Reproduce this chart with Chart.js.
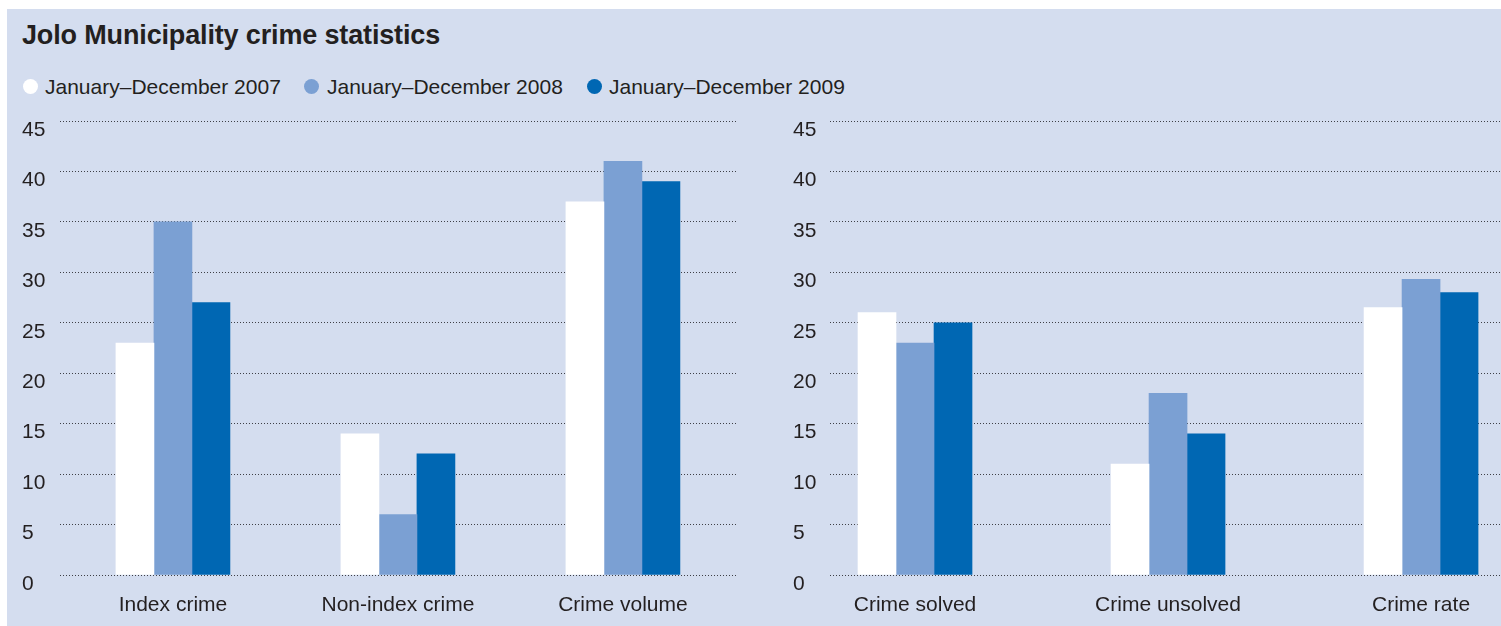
<!DOCTYPE html>
<html>
<head>
<meta charset="utf-8">
<script src="https://cdn.jsdelivr.net/npm/chart.js@4/dist/chart.umd.min.js"></script>
<style>
  html, body { margin: 0; padding: 0; background: #ffffff; }
  body { width: 1501px; height: 626px; position: relative; overflow: hidden; font-family: "Liberation Sans", Arial, sans-serif; color: #231f20; }
  #panel { position: absolute; left: 7px; top: 9px; width: 1494px; height: 617px; background: #d4ddef; }
  #title { position: absolute; left: 22px; top: 22px; font-size: 27px; font-weight: bold; line-height: 1; white-space: nowrap; letter-spacing: -0.15px; }
  .leg-dot { position: absolute; width: 15px; height: 15px; border-radius: 50%; top: 78.5px; }
  .leg-txt { position: absolute; top: 75.7px; font-size: 21px; line-height: 1; white-space: nowrap; }
  canvas { position: absolute; }
  #wrapL { position: absolute; left: 7px; top: 111px; width: 730px; height: 515px; }
  #wrapR { position: absolute; left: 760px; top: 111px; width: 741px; height: 515px; }
</style>
</head>
<body>
<div id="panel"></div>
<div id="title">Jolo Municipality crime statistics</div>
<div id="legend"></div>
<div id="wrapL"><canvas id="chartL"></canvas></div>
<div id="wrapR"><canvas id="chartR"></canvas></div>
<script>
// ---- data ----
const seriesNames = ['January\u2013December 2007', 'January\u2013December 2008', 'January\u2013December 2009'];
const seriesColors = ['#ffffff', '#7ba0d3', '#0067b3'];

const leftCategories = ['Index crime', 'Non-index crime', 'Crime volume'];
const left2007 = [23, 14, 37];
const left2008 = [35, 6, 41];
const left2009 = [27, 12, 39];

const rightCategories = ['Crime solved', 'Crime unsolved', 'Crime rate'];
const right2007 = [26, 11, 26.5];
const right2008 = [23, 18, 29.3];
const right2009 = [25, 14, 28];

const yMin = 0, yMax = 45, yStep = 5;

// ---- legend (HTML) ----
const legendPos = [{dot: 23, txt: 45}, {dot: 304, txt: 327}, {dot: 587, txt: 609}];
const legendEl = document.getElementById('legend');
seriesNames.forEach((name, i) => {
  const d = document.createElement('div');
  d.className = 'leg-dot';
  d.style.left = legendPos[i].dot + 'px';
  d.style.background = seriesColors[i];
  legendEl.appendChild(d);
  const t = document.createElement('div');
  t.className = 'leg-txt';
  t.style.left = legendPos[i].txt + 'px';
  t.textContent = name;
  legendEl.appendChild(t);
});

const FONT = { family: '"Liberation Sans", Arial, sans-serif', size: 21 };
const TEXT = '#231f20';

function makeChart(id, categories, s1, s2, s3, xMin, xMax, padLeft, yWidth) {
  const toPts = arr => arr.map((v, i) => ({ x: i, y: v }));
  const sets = [s1, s2, s3].map((arr, i) => ({
    label: seriesNames[i],
    data: toPts(arr),
    backgroundColor: seriesColors[i],
    borderWidth: 0,
    barThickness: 38
  }));
  return new Chart(document.getElementById(id), {
    type: 'bar',
    data: { datasets: sets },
    options: {
      responsive: true,
      maintainAspectRatio: false,
      animation: false,
      events: [],
      layout: { padding: { left: padLeft, right: 0, top: 10, bottom: 0 } },
      plugins: { legend: { display: false }, tooltip: { enabled: false }, title: { display: false } },
      scales: {
        x: {
          type: 'linear',
          offset: false,
          min: xMin,
          max: xMax,
          grid: { display: false, drawTicks: false },
          border: { display: false },
          afterBuildTicks: axis => { axis.ticks = categories.map((c, i) => ({ value: i })); },
          afterFit: scale => { scale.height = 51; scale.paddingLeft = 0; scale.paddingRight = 0; },
          ticks: {
            autoSkip: false,
            maxRotation: 0,
            padding: 18,
            color: TEXT,
            font: FONT,
            callback: v => categories[v]
          }
        },
        y: {
          min: yMin,
          max: yMax,
          afterFit: scale => { scale.width = yWidth; scale.paddingTop = 0; scale.paddingBottom = 0; },
          grid: { display: true, drawTicks: false, color: 'rgba(35,35,40,0.85)', lineWidth: 1 },
          border: { display: false, dash: [1, 2] },
          ticks: {
            stepSize: yStep,
            crossAlign: 'far',
            labelOffset: 9,
            padding: 0,
            color: TEXT,
            font: FONT
          }
        }
      }
    }
  });
}

makeChart('chartL', leftCategories, left2007, left2008, left2009, -0.502, 2.507, 15, 38);
makeChart('chartR', rightCategories, right2007, right2008, right2009, -0.336, 2.316, 33, 37);
</script>
</body>
</html>
